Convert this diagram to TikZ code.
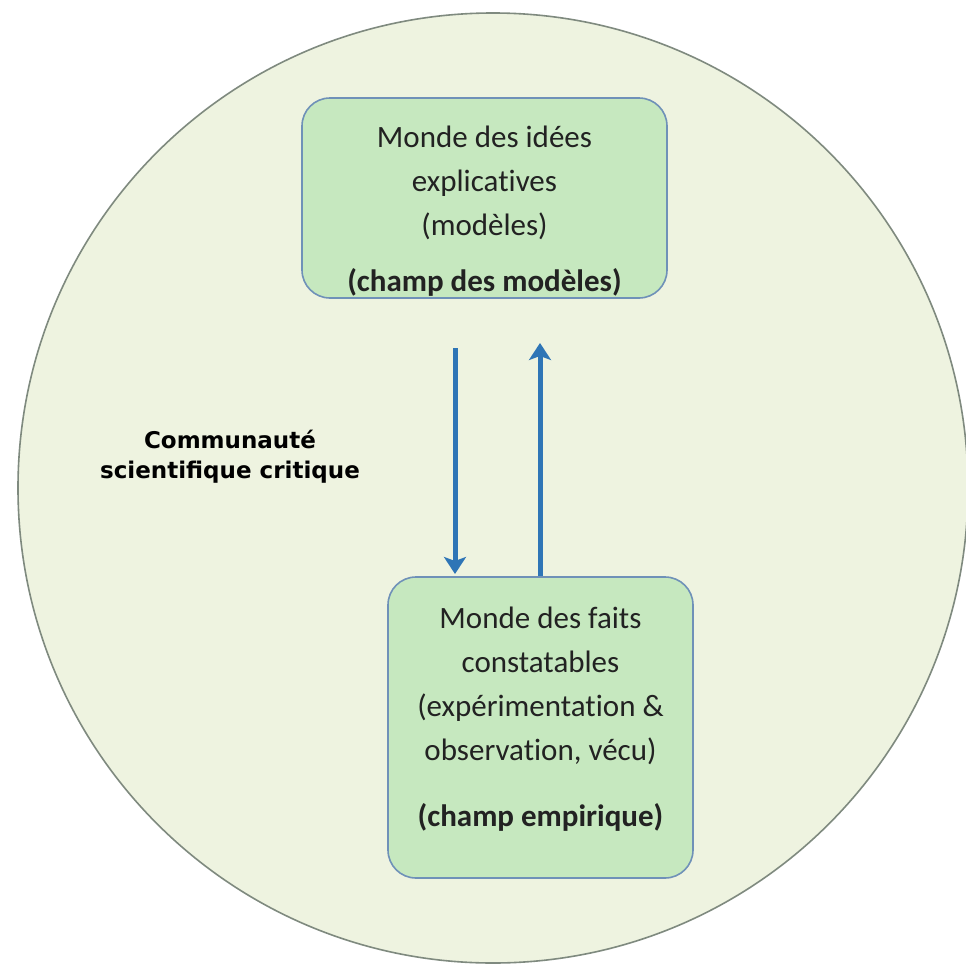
\documentclass[tikz,border=0pt]{standalone}
\usepackage{fontspec}
\setmainfont{Carlito}[Ligatures=NoCommon]
\newfontfamily\labfont{DejaVu Sans}
\usetikzlibrary{arrows.meta}
\definecolor{worldfill}{HTML}{EEF3E0}
\definecolor{worldline}{HTML}{7F8A7F}
\definecolor{boxfill}{HTML}{C6E8BF}
\definecolor{boxline}{HTML}{6F91B8}
\definecolor{arrowblue}{HTML}{2E75B6}
\definecolor{txt}{HTML}{222222}
\tikzset{
  world/.style={circle, draw=worldline, fill=worldfill, line width=1.6pt, minimum size=950pt, inner sep=0pt},
  fieldbox/.style={rounded corners=28pt, draw=boxline, fill=boxfill, line width=1.6pt, inner sep=0pt},
  boxtext/.style={align=center, text=txt, font=\fontsize{31}{44}\selectfont, inner sep=0pt},
  labeltext/.style={align=center, text=black, font=\labfont\bfseries\fontsize{23}{30}\selectfont, inner sep=0pt},
  flow/.style={draw=arrowblue, line width=5pt, -{Stealth[length=17pt,width=22pt,inset=4pt]}}
}
\begin{document}
\begin{tikzpicture}[x=1pt,y=-1pt]
\useasboundingbox (0,0) rectangle (966,969);
\fill[white] (0,0) rectangle (966,969);
\begin{scope}
\clip (0,0) rectangle (966,969);
\node[world] (world) at (493,488) {};
\end{scope}
% boxes
\node[fieldbox, minimum width=365pt, minimum height=200pt] (top) at (484.5,198) {};
\node[boxtext] (toptext) at (484.5,211) {Monde des idées\\explicatives\\(modèles)\\[12pt]\textbf{(champ des modèles)}};
\node[fieldbox, minimum width=305pt, minimum height=301pt] (bottom) at (540.5,727.5) {};
\node[boxtext] (bottomtext) at (540.5,719) {Monde des faits\\constatables\\(expérimentation \&\\observation, vécu)\\[22pt]\textbf{(champ empirique)}};
% label
\node[labeltext] (community) at (230,457) {Communauté\\scientifique critique};
% arrows
\coordinate (downstart) at (455,348);
\coordinate (downend) at (455,574);
\coordinate (upend) at (540,343);
\draw[flow] (downstart) -- (downend);
\draw[flow] (bottom.north -| upend) -- (upend);
\end{tikzpicture}
\end{document}
